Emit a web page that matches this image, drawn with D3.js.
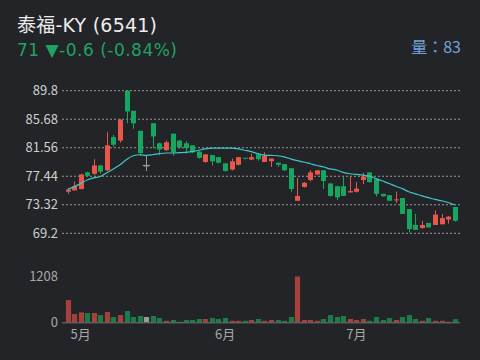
<!DOCTYPE html>
<html><head><meta charset="utf-8">
<script src="https://cdn.jsdelivr.net/npm/d3@7"></script>
<style>html,body{margin:0;padding:0;background:#232427;} svg{display:block;}</style>
</head><body><svg id="c" width="480" height="360"></svg>
<script>
const dates = ["2023-04-27","2023-04-28",
"2023-05-02","2023-05-03","2023-05-04","2023-05-05","2023-05-08","2023-05-09","2023-05-10","2023-05-11","2023-05-12",
"2023-05-15","2023-05-16","2023-05-17","2023-05-18","2023-05-19","2023-05-22","2023-05-23","2023-05-24","2023-05-25","2023-05-26",
"2023-05-29","2023-05-30","2023-05-31",
"2023-06-01","2023-06-02","2023-06-05","2023-06-06","2023-06-07","2023-06-08","2023-06-09","2023-06-12","2023-06-13","2023-06-14",
"2023-06-15","2023-06-16","2023-06-19","2023-06-20","2023-06-21","2023-06-26","2023-06-27","2023-06-28","2023-06-29","2023-06-30",
"2023-07-03","2023-07-04","2023-07-05","2023-07-06","2023-07-07","2023-07-10","2023-07-11","2023-07-12","2023-07-13","2023-07-14",
"2023-07-17","2023-07-18","2023-07-19","2023-07-20","2023-07-21","2023-07-24"];
const openP  = [75.2,75.4,75.6,78.0,77.8,79.0,78.3,83.1,82.6,89.8,86.9,84.0,79.0,85.1,82.2,81.2,83.6,82.6,82.2,81.9,
                81.0,79.5,80.5,80.2,79.3,78.4,79.1,80.1,79.85,80.6,79.5,79.6,79.4,79.2,78.6,73.9,75.9,76.9,77.7,78.3,
                76.4,76.0,76.0,75.1,75.2,76.9,78.0,77.0,74.9,74.7,73.95,74.3,72.7,70.4,69.95,70.7,70.4,70.5,71.2,73.0];
const highP  = [75.6,76.7,77.8,78.1,79.9,79.1,83.8,83.4,85.7,89.8,86.9,84.0,80.4,85.1,82.3,82.6,83.6,82.7,82.5,81.9,
                81.1,80.6,80.5,80.2,79.3,80.0,80.2,80.1,80.7,80.6,80.9,80.0,79.4,79.2,78.6,77.2,76.6,78.3,78.3,78.3,
                76.4,76.0,77.4,77.4,76.6,77.95,78.0,77.0,74.9,74.7,75.2,74.3,72.7,72.0,71.0,70.7,72.5,72.0,71.7,73.0];
const lowP   = [74.9,75.4,75.5,77.4,77.6,77.8,78.2,81.7,82.3,85.1,84.3,80.4,78.2,81.5,80.5,81.1,80.4,81.4,80.7,80.8,
                80.0,79.4,79.0,79.3,78.1,78.3,79.0,79.9,79.8,79.7,79.5,78.8,78.8,78.2,75.2,73.9,75.8,76.7,77.6,75.6,
                74.5,74.0,74.6,75.1,75.1,76.3,76.5,74.5,74.5,73.9,73.6,72.0,69.3,69.7,69.9,70.0,70.4,70.5,70.6,70.9];
const closeP = [75.5,76.0,77.7,77.5,79.0,78.1,81.9,82.0,85.6,86.8,85.1,80.8,79.0,83.2,81.3,82.35,80.9,81.6,81.5,80.9,
                80.1,80.6,79.6,79.4,78.2,79.6,80.2,80.0,80.2,79.9,80.4,80.0,79.1,78.3,75.6,74.6,76.5,78.0,78.3,76.75,
                74.6,74.4,74.6,75.3,75.65,77.4,76.6,74.9,74.55,73.9,74.1,72.0,69.8,69.7,70.4,70.05,71.9,71.4,71.6,71.0];
const volume = [586,218,263,245,245,192,271,140,192,297,140,166,140,166,114,40,61,15,61,61,
                88,88,114,88,114,40,40,40,61,88,40,61,61,40,140,1208,61,61,40,88,
                192,140,166,88,61,88,40,140,61,114,61,140,192,88,40,114,40,40,15,83];
const maLine = [75.55,75.9,76.4,76.9,77.2,77.4,77.95,78.5,79.1,79.85,80.4,80.55,80.45,80.55,80.7,80.8,80.8,80.85,80.9,81.0,
                81.2,81.4,81.5,81.5,81.5,81.5,81.4,81.2,81.0,80.7,80.5,80.45,80.4,80.25,79.95,79.7,79.5,79.25,79.0,78.8,
                78.5,78.35,78.0,77.8,77.7,77.6,77.45,77.1,76.75,76.4,76.0,75.65,75.2,74.9,74.6,74.35,74.1,73.9,73.65,73.3];
const priceTicks = [69.2,73.32,77.44,81.56,85.68,89.8];
const volTicks = [0,1208];
const monthLabels = ["5月","6月","7月"];
const titleText = "泰福-KY (6541)";
const quoteText = "71 ▼-0.6 (-0.84%)";
const volText = "量：83";

const svg = d3.select("#c");
const FONT = "'Noto Sans CJK TC','Noto Sans',sans-serif";
const TFONT = "'DejaVu Sans','Noto Sans CJK TC',sans-serif";
const UP = "#e8574a", DOWN = "#15a75f", FLAT = "#9a9a9a";
const VUP = "#a3413a", VDOWN = "#1b7c49";

const x = d3.scaleBand().domain(dates).range([65, 457.3]).paddingInner(0.22);
const y = d3.scaleLinear().domain([69.2, 89.8]).range([233.3, 90.7]);
const yv = d3.scaleLinear().domain([0, 1208]).range([322.3, 276.5]);
const cx = d => x(d) + x.bandwidth()/2;
const data = dates.map((d,i)=>({d, o:openP[i], h:highP[i], l:lowP[i], c:closeP[i], v:volume[i], ma:maLine[i]}));
const col = (p, up, dn) => p.c > p.o ? up : (p.c < p.o ? dn : FLAT);

// title
svg.append("text").attr("x",17).attr("y",32).attr("fill","#ececec").attr("font-size",19).attr("font-family",TFONT)
  .attr("textLength",140).attr("lengthAdjust","spacing").text(titleText);
svg.append("text").attr("x",17).attr("y",56).attr("fill","#1fa362").attr("font-size",17).attr("font-family",TFONT)
  .attr("textLength",160).attr("lengthAdjust","spacing").text(quoteText);
svg.append("text").attr("x",461).attr("y",53).attr("text-anchor","end").attr("fill","#6fa3dc").attr("font-size",16).attr("font-family",FONT).text(volText);

// price grid + axis
const yAxis = d3.axisLeft(y).tickValues(priceTicks).tickSize(0).tickPadding(4).tickFormat(d=>String(d));
const ga = svg.append("g").attr("transform","translate(62,0)").call(yAxis);
ga.select(".domain").remove();
ga.selectAll("text").attr("fill","#cfcfcf").attr("font-size",13).attr("font-family",FONT);
svg.append("g").selectAll("line").data(priceTicks).join("line")
  .attr("x1",62).attr("x2",460).attr("y1",d=>y(d)).attr("y2",d=>y(d))
  .attr("stroke","#9a9a9a").attr("stroke-width",1).attr("stroke-dasharray","2,2");

// candles
const gc = svg.append("g");
gc.selectAll("line.w").data(data).join("line").attr("class","w")
  .attr("x1",p=>Math.round(cx(p.d))+0.5).attr("x2",p=>Math.round(cx(p.d))+0.5)
  .attr("y1",p=>y(p.h)).attr("y2",p=>y(p.l))
  .attr("stroke",p=>col(p,UP,DOWN)).attr("stroke-width",1);
gc.selectAll("rect").data(data).join("rect")
  .attr("x",p=>Math.round(cx(p.d))+0.5-2.5).attr("width",5)
  .attr("y",p=>Math.min(y(p.o),y(p.c)))
  .attr("height",p=>Math.max(1,Math.abs(y(p.o)-y(p.c))))
  .attr("fill",p=>col(p,UP,DOWN));
gc.selectAll("line.dj").data(data.filter(p=>p.o===p.c)).join("line").attr("class","dj")
  .attr("x1",p=>cx(p.d)-3.5).attr("x2",p=>cx(p.d)+3.5).attr("y1",p=>y(p.o)).attr("y2",p=>y(p.o))
  .attr("stroke",FLAT).attr("stroke-width",1.2);

// MA line
svg.append("path").datum(data)
  .attr("d",d3.line().x(p=>cx(p.d)).y(p=>y(p.ma)).curve(d3.curveMonotoneX))
  .attr("fill","none").attr("stroke","#3fc6c6").attr("stroke-width",1.2);

// volume
const vAxis = d3.axisLeft(yv).tickValues(volTicks).tickSize(0).tickPadding(4).tickFormat(d=>String(d));
const gv = svg.append("g").attr("transform","translate(62,0)").call(vAxis);
gv.select(".domain").remove();
gv.selectAll("text").attr("fill","#a8a8a8").attr("font-size",13).attr("font-family",FONT);
svg.append("g").selectAll("rect").data(data).join("rect")
  .attr("x",p=>Math.round(cx(p.d))+0.5-2.6).attr("width",5.2)
  .attr("y",p=>yv(p.v)).attr("height",p=>yv(0)-yv(p.v))
  .attr("fill",p=>col(p,VUP,VDOWN));
svg.append("line").attr("x1",62).attr("x2",460).attr("y1",yv(0)+0.5).attr("y2",yv(0)+0.5)
  .attr("stroke","#777").attr("stroke-width",1);

// month labels
const firstOfMonth = [];
dates.forEach((d,i)=>{ if(i>0 && d.slice(5,7)!==dates[i-1].slice(5,7)) firstOfMonth.push(d); });
const xAxis = d3.axisBottom(x).tickValues(firstOfMonth).tickSize(0).tickPadding(7)
  .tickFormat((d,i)=>monthLabels[i]);
const gx = svg.append("g").attr("transform","translate(0,323)").call(xAxis);
gx.select(".domain").remove();
gx.selectAll("text").attr("fill","#a8a8a8").attr("font-size",13).attr("font-family",FONT);
</script></body></html>
